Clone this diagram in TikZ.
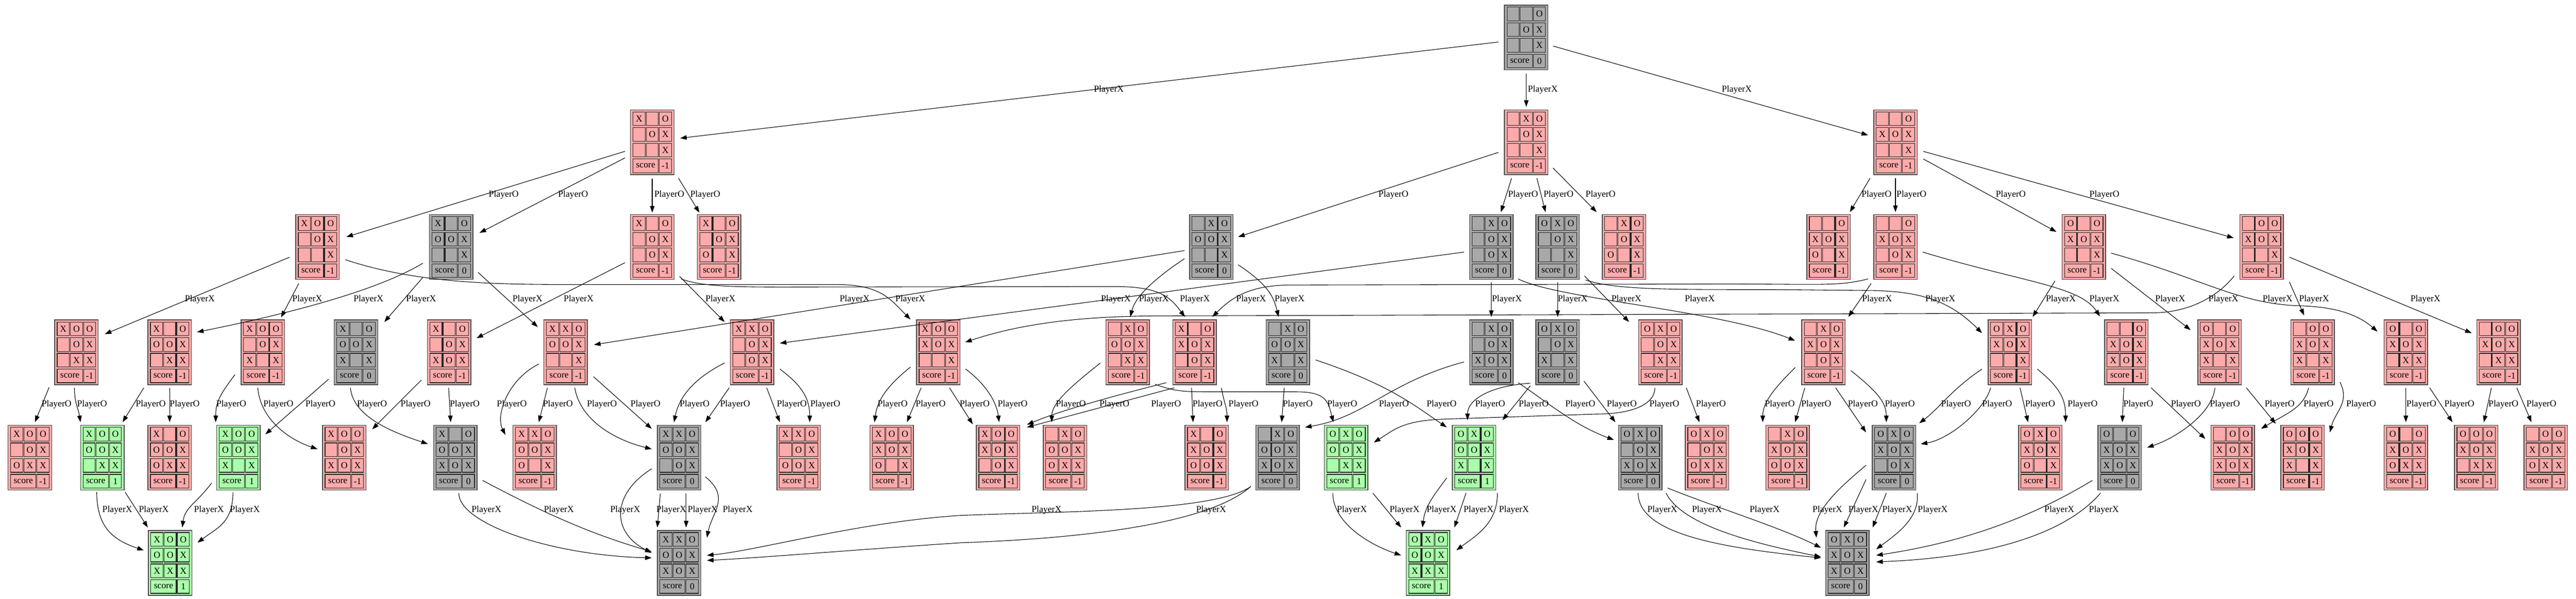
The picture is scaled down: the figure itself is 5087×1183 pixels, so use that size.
\documentclass[tikz,border=0pt]{standalone}
\usepackage{fontspec}
\setmainfont{Liberation Serif}
\usetikzlibrary{calc,arrows.meta}
\definecolor{rd}{HTML}{FFAAAA}
\definecolor{gy}{HTML}{A8A8A8}
\definecolor{gr}{HTML}{AAFFAA}
\newcount\lbn
\newcommand\board[6]{%
  \node[bx,fill=#4] (#1) at (#2,#3) {};
  \begin{scope}[shift={(#2,#3)}]
    \foreach \cv [count=\i from 0] in {#5}{%
      \pgfmathtruncatemacro\cc{mod(\i,3)}%
      \pgfmathtruncatemacro\rr{div(\i,3)}%
      \draw[cl] (\cc*26-38,\rr*31-60) rectangle ++(24,27);
      \node[tx] (#1-\i) at (\cc*26-26,\rr*31-46.5) {\if\cv-\else\cv\fi};
    }
    \draw[cl] (-38,33) rectangle ++(50,27);
    \draw[cl] (14,33) rectangle ++(24,27);
    \node[tx] (#1-s) at (-13,46.5) {score};
    \node[tx] (#1-v) at (26,46.5) {#6};
  \end{scope}
}
\newcommand\E[4]{\draw[conn] ($(#1)+(#2)$) -- ($(#3)+(#4)$);}
\newcommand\C[6]{\draw[conn] ($(#1)+(#2)$) .. controls +(#3) and +(#4) .. ($(#5)+(#6)$);}
\newcommand\Lb[3]{\global\advance\lbn by 1 \node[lab] (lb\the\lbn) at (#1,#2) {#3};}
\newcommand\LX[2]{\Lb{#1}{#2}{PlayerX}}
\newcommand\LO[2]{\Lb{#1}{#2}{PlayerO}}
\begin{document}
\begin{tikzpicture}[x=1pt,y=-1pt,
  bx/.style={rectangle,draw=black!70,line width=1.5pt,minimum width=86pt,minimum height=128pt,inner sep=0pt,outer sep=0pt},
  cl/.style={draw=black!85,line width=1.2pt},
  tx/.style={inner sep=0pt,font=\fontsize{18}{20}\selectfont},
  lab/.style={anchor=west,inner sep=0pt,font=\fontsize{18}{20}\selectfont},
  conn/.style={line width=1.1pt,-{Triangle[length=13pt,width=9pt]}}]
\useasboundingbox[fill=white] (0,0) rectangle (5087,1183);
% row 0
\board{r}{3014}{74}{gy}{-,-,O,-,O,X,-,-,X}{0}
% row 1
\board{a}{1288}{281}{rd}{X,-,O,-,O,X,-,-,X}{-1}
\board{b}{3014}{281}{rd}{-,X,O,-,O,X,-,-,X}{-1}
\board{c}{3743}{281}{rd}{-,-,O,X,O,X,-,-,X}{-1}
% row 2
\board{a1}{627}{488}{rd}{X,O,O,-,O,X,-,-,X}{-1}
\board{a2}{891}{488}{gy}{X,-,O,O,O,X,-,-,X}{0}
\board{a3}{1288}{488}{rd}{X,-,O,-,O,X,-,O,X}{-1}
\board{a4}{1420}{488}{rd}{X,-,O,-,O,X,O,-,X}{-1}
\board{b1}{2392}{488}{gy}{-,X,O,O,O,X,-,-,X}{0}
\board{b2}{2945}{488}{gy}{-,X,O,-,O,X,-,O,X}{0}
\board{b3}{3076}{488}{gy}{O,X,O,-,O,X,-,-,X}{0}
\board{b4}{3207}{488}{rd}{-,X,O,-,O,X,O,-,X}{-1}
\board{c1}{3611}{488}{rd}{-,-,O,X,O,X,O,-,X}{-1}
\board{c2}{3743}{488}{rd}{-,-,O,X,O,X,-,O,X}{-1}
\board{c3}{4115}{488}{rd}{O,-,O,X,O,X,-,-,X}{-1}
\board{c4}{4466}{488}{rd}{-,O,O,X,O,X,-,-,X}{-1}
% row 3
\board{d1}{151}{696}{rd}{X,O,O,-,O,X,-,X,X}{-1}
\board{d2}{335}{696}{rd}{X,-,O,O,O,X,-,X,X}{-1}
\board{d3}{519}{696}{rd}{X,O,O,-,O,X,X,-,X}{-1}
\board{d4}{703}{696}{gy}{X,-,O,O,O,X,X,-,X}{0}
\board{d5}{887}{696}{rd}{X,-,O,-,O,X,X,O,X}{-1}
\board{d6}{1117}{696}{rd}{X,X,O,O,O,X,-,-,X}{-1}
\board{d7}{1485}{696}{rd}{X,X,O,-,O,X,-,O,X}{-1}
\board{d8}{1853}{696}{rd}{X,O,O,X,O,X,-,-,X}{-1}
\board{d9}{2227}{696}{rd}{-,X,O,O,O,X,-,X,X}{-1}
\board{d10}{2359}{696}{rd}{X,-,O,X,O,X,-,O,X}{-1}
\board{d11}{2543}{696}{gy}{-,X,O,O,O,X,X,-,X}{0}
\board{d12}{2945}{696}{gy}{-,X,O,-,O,X,X,O,X}{0}
\board{d13}{3076}{696}{gy}{O,X,O,-,O,X,X,-,X}{0}
\board{d14}{3279}{696}{rd}{O,X,O,-,O,X,-,X,X}{-1}
\board{d15}{3601}{696}{rd}{-,X,O,X,O,X,-,O,X}{-1}
\board{d16}{3969}{696}{rd}{O,X,O,X,O,X,-,-,X}{-1}
\board{d17}{4199}{696}{rd}{-,-,O,X,O,X,X,O,X}{-1}
\board{d18}{4383}{696}{rd}{O,-,O,X,O,X,X,-,X}{-1}
\board{d19}{4567}{696}{rd}{-,O,O,X,O,X,X,-,X}{-1}
\board{d20}{4751}{696}{rd}{O,-,O,X,O,X,-,X,X}{-1}
\board{d21}{4934}{696}{rd}{-,O,O,X,O,X,-,X,X}{-1}
% row 4
\board{e1}{59}{904}{rd}{X,O,O,-,O,X,O,X,X}{-1}
\board{e2}{202}{904}{gr}{X,O,O,O,O,X,-,X,X}{1}
\board{e3}{335}{904}{rd}{X,-,O,O,O,X,O,X,X}{-1}
\board{e4}{471}{904}{gr}{X,O,O,O,O,X,X,-,X}{1}
\board{e5}{680}{904}{rd}{X,O,O,-,O,X,X,O,X}{-1}
\board{e6}{899}{904}{gy}{X,-,O,O,O,X,X,O,X}{0}
\board{e7}{1056}{904}{rd}{X,X,O,O,O,X,O,-,X}{-1}
\board{e8}{1341}{904}{gy}{X,X,O,O,O,X,-,O,X}{0}
\board{e9}{1577}{904}{rd}{X,X,O,-,O,X,O,O,X}{-1}
\board{e10}{1761}{904}{rd}{X,O,O,X,O,X,O,-,X}{-1}
\board{e11}{1971}{904}{rd}{X,O,O,X,O,X,-,O,X}{-1}
\board{e12}{2103}{904}{rd}{-,X,O,O,O,X,O,X,X}{-1}
\board{e13}{2383}{904}{rd}{X,-,O,X,O,X,O,O,X}{-1}
\board{e14}{2523}{904}{gy}{-,X,O,O,O,X,X,O,X}{0}
\board{e15}{2658}{904}{gr}{O,X,O,O,O,X,-,X,X}{1}
\board{e16}{2911}{904}{gr}{O,X,O,O,O,X,X,-,X}{1}
\board{e17}{3239}{904}{gy}{O,X,O,-,O,X,X,O,X}{0}
\board{e18}{3371}{904}{rd}{O,X,O,-,O,X,O,X,X}{-1}
\board{e19}{3530}{904}{rd}{-,X,O,X,O,X,O,O,X}{-1}
\board{e20}{3740}{904}{gy}{O,X,O,X,O,X,-,O,X}{0}
\board{e21}{4029}{904}{rd}{O,X,O,X,O,X,O,-,X}{-1}
\board{e22}{4186}{904}{gy}{O,-,O,X,O,X,X,O,X}{0}
\board{e23}{4409}{904}{rd}{-,O,O,X,O,X,X,O,X}{-1}
\board{e24}{4547}{904}{rd}{O,O,O,X,O,X,X,-,X}{-1}
\board{e25}{4751}{904}{rd}{O,-,O,X,O,X,O,X,X}{-1}
\board{e26}{4890}{904}{rd}{O,O,O,X,O,X,-,X,X}{-1}
\board{e27}{5027}{904}{rd}{-,O,O,X,O,X,O,X,X}{-1}
% row 5
\board{f1}{336}{1112}{gr}{X,O,O,O,O,X,X,X,X}{1}
\board{f2}{1341}{1112}{gy}{X,X,O,O,O,X,X,O,X}{0}
\board{f3}{2820}{1112}{gr}{O,X,O,O,O,X,X,X,X}{1}
\board{f4}{3648}{1112}{gy}{O,X,O,X,O,X,X,O,X}{0}
% ===== edges row 0 -> 1
\E{r}{-55,9}{a}{55,-8}
\E{r}{0,71}{b}{0,-70}
\E{r}{53,17}{c}{-54,-14}
% ===== row 1 -> 2
\E{a}{-54,18}{a1}{57,-20}
\E{a}{-54,31}{a2}{56,-28}
\E{a}{0,72}{a3}{0,-68}
\E{a}{52,71}{a4}{-39,-68}
\E{b}{-55,20}{b1}{53,-20}
\E{b}{-29,71}{b2}{19,-69}
\E{b}{21,71}{b3}{-24,-69}
\E{b}{53,51}{b4}{-54,-69}
\E{c}{-50,71}{c1}{42,-69}
\E{c}{0,71}{c2}{0,-69}
\E{c}{55,33}{c3}{-54,-30}
\E{c}{55,18}{c4}{-55,-18}
% ===== row 2 -> 3
\E{a1}{-55,20}{d1}{56,-36}
\E{a1}{-37,72}{d3}{36,-69}
\draw[conn] ($(a1)+(55,25)$) .. controls +(150,50) and +(-150,0) .. (1150,562) -- (1650,562) .. controls +(90,0) and +(-40,-40) .. ($(d8)+(-55,-65)$);
\C{a2}{-56,32}{-100,60}{150,-30}{d2}{54,-40}
\E{a2}{-56,60}{d4}{56,-60}
\E{a2}{53,50}{d6}{-55,-50}
\E{a3}{-54,31}{d5}{54,-28}
\E{a3}{54,58}{d7}{-54,-60}
\draw[conn] ($(a3)+(57,63)$) .. controls +(40,15) and +(-100,0) .. (1550,567) -- (2200,566) .. controls +(90,0) and +(-30,-40) .. ($(d10)+(-19,-70)$);
\E{b1}{-53,7}{d6}{56,-15}
\C{b1}{-53,23}{-60,40}{10,-40}{d9}{5,-70}
\C{b1}{53,35}{60,40}{-10,-40}{d11}{-18,-70}
\E{b2}{-54,10}{d7}{55,-18}
\E{b2}{0,70}{d12}{0,-70}
\C{b2}{53,63}{80,40}{-150,-60}{d15}{-56,-23}
\E{b3}{0,70}{d13}{0,-70}
\E{b3}{53,57}{d14}{-62,-60}
\draw[conn] ($(b3)+(55,65)$) .. controls +(60,20) and +(-200,0) .. (3500,572) -- (3700,574) .. controls +(100,2) and +(-60,-60) .. ($(d16)+(-55,-38)$);
\draw[conn] ($(c2)+(-54,63)$) .. controls +(-60,15) and +(200,0) .. (3400,561) -- (2550,563) .. controls +(-80,0) and +(40,-40) .. ($(d10)+(35,-70)$);
\E{c2}{-48,72}{d15}{49,-70}
\C{c2}{54,10}{200,60}{-40,-60}{d17}{-52,-71}
\E{c3}{-57,67}{d16}{45,-70}
\E{c3}{54,42}{d18}{-57,-44}
\draw[conn] ($(c3)+(54,12)$) .. controls +(180,50) and +(-120,-4) .. (4540,604) .. controls +(80,2) and +(-35,-30) .. ($(d20)+(-56,-41)$);
\draw[conn] ($(c4)+(-54,57)$) .. controls +(-40,50) and +(60,0) .. (4250,618) -- (2300,624) .. controls +(-150,0) and +(120,-40) .. ($(d8)+(53,-20)$);
\E{c4}{55,69}{d19}{-17,-73}
\E{c4}{55,20}{d21}{-53,-38}
% ===== row 3 -> 4
\E{d1}{-54,69}{e1}{10,-70}
\C{d1}{-4,70}{0,30}{-5,-30}{e2}{-43,-70}
\E{d2}{-51,70}{e2}{40,-70}
\E{d2}{0,70}{e3}{0,-70}
\C{d3}{-55,44}{-30,40}{0,-40}{e4}{-45,-70}
\C{d3}{-10,70}{5,60}{-60,-20}{e5}{-53,-17}
\E{d4}{-54,53}{e4}{53,-46}
\C{d4}{-11,70}{5,60}{-60,-20}{e6}{-54,-27}
\E{d5}{-55,55}{e5}{55,-56}
\E{d5}{-1,70}{e6}{-9,-70}
\C{d6}{-53,23}{-60,30}{-20,-40}{e7}{-58,-45}
\E{d6}{-36,70}{e7}{8,-70}
\C{d6}{18,70}{10,60}{-80,-20}{e8}{-54,-17}
\E{d6}{55,48}{e8}{-54,-57}
\C{d7}{-54,21}{-60,30}{10,-50}{e8}{-10,-70}
\E{d7}{-45,70}{e8}{52,-70}
\E{d7}{29,70}{e9}{-37,-70}
\C{d7}{55,33}{40,30}{0,-50}{e9}{22,-70}
\C{d8}{-55,29}{-50,40}{5,-40}{e10}{-34,-70}
\E{d8}{-34,70}{e10}{30,-70}
\E{d8}{22,70}{e11}{-50,-66}
\C{d8}{54,33}{40,30}{-5,-40}{e11}{2,-70}
\C{d9}{-54,21}{-50,40}{0,-40}{e12}{-26,-70}
\draw[conn] ($(d9)+(54,63)$) .. controls +(40,15) and +(-60,0) .. (2400,774) -- (2560,774) .. controls +(60,0) and +(-10,-40) .. ($(e15)+(-25,-70)$);
\C{d10}{-56,60}{-80,20}{70,-30}{e11}{57,-65}
\E{d10}{-40,70}{e11}{57,-60}
\E{d10}{-6,70}{e13}{-27,-70}
\C{d10}{53,70}{5,30}{0,-30}{e13}{40,-70}
\E{d11}{-7,70}{e14}{8,-70}
\C{d11}{55,15}{150,50}{-60,-40}{e16}{-54,-60}
\C{d12}{-54,19}{-150,40}{120,-20}{e14}{54,-60}
\C{d12}{53,60}{60,40}{-80,-30}{e17}{-52,-35}
\C{d13}{-54,61}{-80,5}{0,-40}{e16}{-13,-74}
\E{d13}{-54,66}{e16}{56,-74}
\E{d13}{52,57}{e17}{-49,-70}
\draw[conn] ($(d14)+(-11,70)$) .. controls +(0,30) and +(80,0) .. (3150,818) -- (2850,828) .. controls +(-80,3) and +(40,-25) .. ($(e15)+(55,-30)$);
\E{d14}{51,70}{e18}{-15,-70}
\C{d15}{-56,30}{-40,40}{0,-40}{e19}{-49,-70}
\E{d15}{-37,70}{e19}{15,-70}
\E{d15}{24,70}{e20}{-55,-50}
\C{d15}{54,36}{50,40}{0,-40}{e20}{-15,-70}
\C{d16}{-55,33}{-60,40}{40,-30}{e20}{50,-68}
\C{d16}{-38,70}{-10,40}{60,-10}{e20}{53,-27}
\E{d16}{20,70}{e21}{-24,-70}
\C{d16}{54,33}{50,40}{0,-40}{e21}{50,-70}
\E{d17}{-5,70}{e22}{5,-70}
\E{d17}{49,70}{e23}{-54,-37}
\C{d18}{-9,70}{-5,50}{60,-20}{e22}{54,-20}
\E{d18}{53,70}{e24}{-53,-67}
\C{d19}{-8,70}{-10,40}{50,-30}{e23}{56,-57}
\C{d19}{54,59}{20,40}{10,-40}{e24}{54,-50}
\E{d20}{0,70}{e25}{0,-70}
\E{d20}{47,70}{e26}{-47,-70}
\E{d21}{-14,70}{e26}{15,-70}
\E{d21}{36,70}{e27}{-28,-70}
% ===== row 4 -> 5
\C{e2}{-11,68}{0,70}{-60,-20}{f1}{-52,-25}
\E{e2}{45,68}{f1}{-44,-70}
\C{e4}{-53,50}{-30,40}{5,-40}{f1}{24,-70}
\C{e4}{-11,68}{0,60}{40,-30}{f1}{54,-40}
\C{e6}{7,70}{0,60}{-200,-5}{f2}{-54,-10}
\C{e6}{54,45}{150,80}{-100,-30}{f2}{-54,-22}
\C{e8}{-54,22}{-80,50}{-80,-40}{f2}{-54,-20}
\E{e8}{-37,71}{f2}{-43,-70}
\E{e8}{14,71}{f2}{14,-70}
\C{e8}{52,38}{50,40}{10,-50}{f2}{55,-50}
\draw[conn] ($(e14)+(-53,57)$) .. controls +(-70,50) and +(200,-8) .. (1900,1018) .. controls +(-200,12) and +(104,-10) .. ($(f2)+(55,-15)$);
\draw[conn] ($(e14)+(-53,57)$) .. controls +(-90,80) and +(200,-7) .. (1900,1072) .. controls +(-200,13) and +(104,-5) .. ($(f2)+(55,-5)$);
\C{e15}{-26,70}{0,60}{-60,-20}{f3}{-53,-15}
\E{e15}{53,70}{f3}{-53,-70}
\C{e16}{-54,40}{-30,40}{5,-40}{f3}{-11,-70}
\E{e16}{-16,70}{f3}{52,-70}
\C{e16}{46,70}{0,60}{40,-30}{f3}{56,-25}
\C{e17}{-4,70}{0,80}{-200,-20}{f4}{-52,-10}
\C{e17}{51,70}{30,60}{-150,-30}{f4}{-52,-12}
\C{e17}{54,60}{100,40}{-80,-40}{f4}{-52,-30}
\C{e20}{-55,15}{-60,50}{-5,-50}{f4}{-61,-50}
\E{e20}{-55,43}{f4}{-7,-70}
\E{e20}{-15,70}{f4}{50,-70}
\C{e20}{46,70}{5,50}{40,-30}{f4}{57,-27}
\C{e22}{-54,45}{-100,60}{200,-30}{f4}{57,-15}
\C{e22}{-38,70}{-60,70}{250,-10}{f4}{57,-2}
% ===== labels
\LX{2160}{177}\LX{3017}{177}\LX{3400}{177}
\LO{965}{385}\LO{1102}{385}\LO{1292}{385}\LO{1363}{385}
\LO{2722}{385}\LO{2978}{385}\LO{3048}{385}\LO{3131}{385}
\LO{3676}{385}\LO{3745}{385}\LO{3941}{385}\LO{4126}{385}
\LX{365}{591}\LX{577}{591}\LX{698}{591}\LX{802}{591}\LX{1012}{591}
\LX{1113}{591}\LX{1393}{591}\LX{1658}{591}\LX{1768}{591}
\LX{2174}{591}\LX{2249}{591}\LX{2330}{591}\LX{2441}{591}\LX{2517}{591}
\LX{2946}{591}\LX{3076}{591}\LX{3182}{591}\LX{3327}{591}\LX{3677}{591}\LX{3802}{591}
\LX{4040}{591}\LX{4126}{591}\LX{4256}{591}\LX{4361}{591}\LX{4468}{591}\LX{4540}{591}\LX{4760}{591}
\LO{82}{799}\LO{152}{799}\LO{268}{799}\LO{335}{799}\LO{427}{799}
\LO{520}{799}\LO{603}{799}\LO{705}{799}\LO{791}{799}\LO{888}{799}
\LO{981}{799}\LO{1072}{799}\LO{1159}{799}\LO{1245}{799}\LO{1342}{799}\LO{1422}{799}
\LO{1534}{799}\LO{1600}{799}\LO{1733}{799}\LO{1808}{799}\LO{1895}{799}\LO{1970}{799}
\LO{2085}{799}\LO{2621}{799}\LO{2171}{799}\LO{2273}{799}\LO{2355}{799}\LO{2426}{799}
\LO{2533}{799}\LO{2817}{799}\LO{2723}{799}\LO{3091}{799}
\LO{2913}{799}\LO{2999}{799}\LO{3173}{799}\LO{3257}{799}\LO{3349}{799}
\LO{3485}{799}\LO{3557}{799}\LO{3649}{799}\LO{3722}{799}
\LO{3833}{799}\LO{3914}{799}\LO{3999}{799}\LO{4083}{799}
\LO{4193}{799}\LO{4287}{799}\LO{4364}{799}\LO{4472}{799}
\LO{4549}{799}\LO{4633}{799}\LO{4752}{799}\LO{4827}{799}\LO{4914}{799}\LO{4989}{799}
\LX{202}{1007}\LX{274}{1007}\LX{383}{1007}\LX{454}{1007}
\LX{931}{1007}\LX{1074}{1007}\LX{1205}{1007}\LX{1296}{1007}\LX{1358}{1007}\LX{1427}{1007}
\LX{2037}{1007}\LX{2362}{1007}
\LX{2640}{1007}\LX{2744}{1007}\LX{2817}{1007}\LX{2890}{1007}\LX{2960}{1007}
\LX{3253}{1007}\LX{3341}{1007}\LX{3455}{1007}\LX{3579}{1007}\LX{3650}{1007}
\LX{3717}{1007}\LX{3787}{1007}\LX{4037}{1007}\LX{4125}{1007}
\end{tikzpicture}
\end{document}
